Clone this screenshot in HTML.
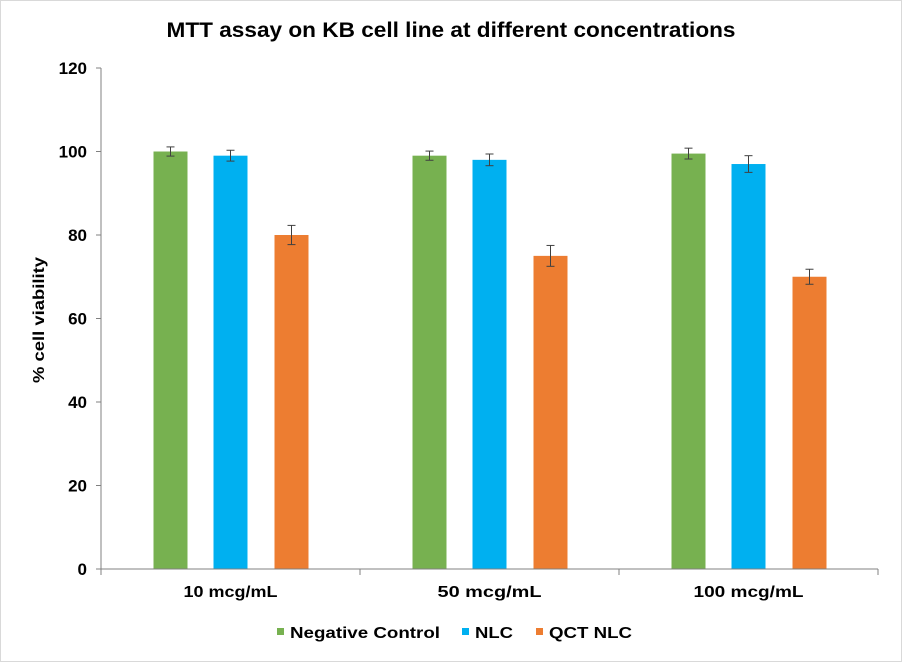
<!DOCTYPE html>
<html><head><meta charset="utf-8"><style>
body{margin:0;background:#fff;}
#wrap{position:relative;width:902px;height:662px;box-sizing:border-box;border:1px solid #d9d9d9;background:#fff;}
svg text{font-family:"Liberation Sans",Arial,sans-serif;fill:#000;}
</style></head><body>
<div id="wrap">
<svg id="chart" width="902" height="662" style="position:absolute;left:-1px;top:-1px"></svg>
</div>
<script>
const categories=["10 mcg/mL","50 mcg/mL","100 mcg/mL"];
const seriesNames=["Negative Control","NLC","QCT NLC"];
const negControl=[100,99,99.5];
const nlc=[99,98,97];
const qctNlc=[80,75,70];
const negErr=[1.1,1.1,1.3];
const nlcErr=[1.3,1.4,2.0];
const qctErr=[2.3,2.5,1.8];
const yTicks=[0,20,40,60,80,100,120];

const svg=document.getElementById('chart');
const NS='http://www.w3.org/2000/svg';
function mk(t,a,p){const e=document.createElementNS(NS,t);for(const k in a)e.setAttribute(k,a[k]);(p||svg).appendChild(e);return e;}
const x0=101,x1=878,yB=569,yT=68,yMax=120;
const y=v=>yB-(v/yMax)*(yB-yT);
const cw=(x1-x0)/categories.length;
const cx=i=>x0+cw*(i+0.5);
const colors=["#77b150","#00b0f0","#ed7d31"];
const data=[negControl,nlc,qctNlc],errs=[negErr,nlcErr,qctErr];
const offs=[-60,0,61],bw=34;
const catW=[94,104,110];
const legW=[150,38,83];

let t=mk('text',{x:451,y:37,'text-anchor':'middle','font-size':21,'font-weight':'bold',textLength:569,lengthAdjust:'spacingAndGlyphs'});
t.textContent="MTT assay on KB cell line at different concentrations";



let ax=mk('line',{x1:x0,y1:yT,x2:x0,y2:yB,stroke:'#808080','stroke-width':1});


yTicks.forEach(v=>{
  mk('line',{x1:x0-5,y1:y(v),x2:x0,y2:y(v),stroke:'#808080'});
  const l=mk('text',{x:87,y:y(v)+6,'text-anchor':'end','font-size':17,'font-weight':'bold'});
  l.textContent=v;
  
  
});
let yt=mk('text',{transform:'translate(44,320) rotate(-90)','text-anchor':'middle','font-size':16,'font-weight':'bold',textLength:126,lengthAdjust:'spacingAndGlyphs'});
yt.textContent="% cell viability";



data.forEach((s,si)=>{
  s.forEach((v,i)=>{
    const bx=cx(i)+offs[si]-bw/2;
    const r=mk('rect',{x:bx,y:y(v),width:bw,height:yB-y(v),fill:colors[si]});
    
    
    const mx=bx+bw/2,e=errs[si][i];
    const g=mk('g',{stroke:'#404040','stroke-width':1});
    
    
    mk('line',{x1:mx,y1:y(v+e),x2:mx,y2:y(v-e)},g);
    mk('line',{x1:mx-4,y1:y(v+e),x2:mx+4,y2:y(v+e)},g);
    mk('line',{x1:mx-4,y1:y(v-e),x2:mx+4,y2:y(v-e)},g);
  });
});

let xa=mk('line',{x1:x0,y1:yB,x2:x1,y2:yB,stroke:'#808080'});


for(let i=0;i<=categories.length;i++){mk('line',{x1:x0+cw*i,y1:yB,x2:x0+cw*i,y2:yB+6,stroke:'#808080'});}
categories.forEach((c,i)=>{
  const l=mk('text',{x:cx(i),y:597,'text-anchor':'middle','font-size':16,'font-weight':'bold',textLength:catW[i],lengthAdjust:'spacingAndGlyphs'});
  l.textContent=c;
  
  
});

const legX=[277,462,536];
seriesNames.forEach((n,i)=>{
  const g=mk('g',{});
  
  
  mk('rect',{x:legX[i],y:628,width:7,height:7,fill:colors[i]},g);
  const l=mk('text',{x:legX[i]+13,y:638,'font-size':16,'font-weight':'bold',textLength:legW[i],lengthAdjust:'spacingAndGlyphs'},g);
  l.textContent=n;
});
</script>
</body></html>
